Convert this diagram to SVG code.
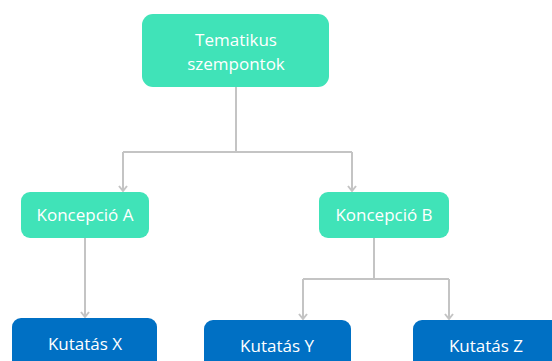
<svg xmlns="http://www.w3.org/2000/svg" width="552" height="361" viewBox="0 0 552 361">
<style>
.teal{fill:#40E3B8;}
.blue{fill:#0070C4;}
.t{font-family:"Open Sans","Liberation Sans",sans-serif;font-size:17px;fill:#ffffff;text-anchor:middle;}
.c{fill:none;stroke:#c4c4c4;stroke-width:2;}
</style>
<g id="connectors">
<path class="c" d="M236 87V152M123 152H352M123 152V191M352 152V191"/>
<path class="c" d="M85 238V317"/>
<path class="c" d="M374 238V279M303 279H449M303 279V319M449 279V319"/>
<path class="c" d="M119 186L123 191L127 186M348 186L352 191L356 186M81 312L85 317L89 312M299 314L303 319L307 314M445 314L449 319L453 314"/>
</g>
<g id="n_top">
<rect class="teal" x="142" y="14" width="187" height="73" rx="11"/>
<text class="t" x="236" y="46">Tematikus</text>
<text class="t" x="236" y="70">szempontok</text>
</g>
<g id="n_ka">
<rect class="teal" x="21" y="192" width="128" height="46" rx="9"/>
<text class="t" x="85" y="221">Koncepció A</text>
</g>
<g id="n_kb">
<rect class="teal" x="319" y="192" width="130" height="46" rx="9"/>
<text class="t" x="384" y="221">Koncepció B</text>
</g>
<g id="n_x">
<rect class="blue" x="12" y="318" width="145" height="60" rx="9"/>
<text class="t" x="85" y="350">Kutatás X</text>
</g>
<g id="n_y">
<rect class="blue" x="204" y="320" width="147" height="60" rx="9"/>
<text class="t" x="277" y="352">Kutatás Y</text>
</g>
<g id="n_z">
<rect class="blue" x="413" y="320" width="147" height="60" rx="9"/>
<text class="t" x="486" y="352">Kutatás Z</text>
</g>
</svg>
